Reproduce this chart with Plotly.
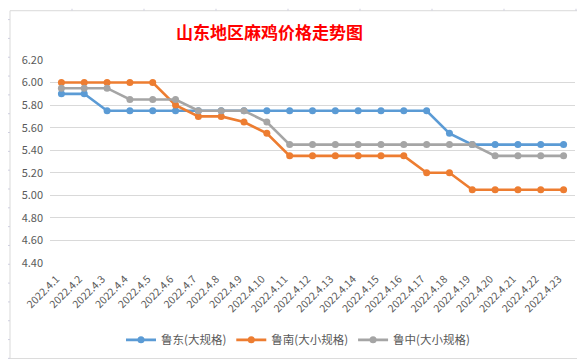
import plotly.graph_objects as go

dates = ["2022.4.%d" % d for d in range(1, 24)]
ludong = [5.90, 5.90, 5.75, 5.75, 5.75, 5.75, 5.75, 5.75, 5.75, 5.75, 5.75, 5.75,
          5.75, 5.75, 5.75, 5.75, 5.75, 5.55, 5.45, 5.45, 5.45, 5.45, 5.45]
lunan = [6.00, 6.00, 6.00, 6.00, 6.00, 5.80, 5.70, 5.70, 5.65, 5.55, 5.35, 5.35,
         5.35, 5.35, 5.35, 5.35, 5.20, 5.20, 5.05, 5.05, 5.05, 5.05, 5.05]
luzhong = [5.95, 5.95, 5.95, 5.85, 5.85, 5.85, 5.75, 5.75, 5.75, 5.65, 5.45, 5.45,
           5.45, 5.45, 5.45, 5.45, 5.45, 5.45, 5.45, 5.35, 5.35, 5.35, 5.35]
series_names = ["鲁东(大规格)", "鲁南(大小规格)", "鲁中(大小规格)"]
colors = ["#5B9BD5", "#ED7D31", "#A5A5A5"]
y_ticks = [4.40, 4.60, 4.80, 5.00, 5.20, 5.40, 5.60, 5.80, 6.00, 6.20]

font_family = "Noto Sans CJK SC, Noto Sans, sans-serif"

fig = go.Figure()
for name, vals, col in zip(series_names, [ludong, lunan, luzhong], colors):
    fig.add_trace(go.Scatter(
        x=dates, y=vals, name=name, mode="lines+markers",
        line=dict(color=col, width=2.6),
        marker=dict(color=col, size=7),
    ))

W, H = 585, 359
L, R, T, B = 42, 18, 52, 101
PW, PH = W - L - R, H - T - B


def px(x):
    return (x - L) / PW


def py(y):
    return (H - B - y) / PH


shapes = [dict(type="rect", xref="paper", yref="paper",
               x0=px(2), x1=px(582), y0=py(355), y1=py(2),
               line=dict(color="#D9D9D9", width=1), layer="below")]
grid_col = "#CFCFDF"
for cx in [64, 136, 208, 280, 352, 424, 496, 568]:
    shapes.append(dict(type="line", xref="paper", yref="paper",
                       x0=px(cx), x1=px(cx), y0=py(0), y1=py(2),
                       line=dict(color=grid_col, width=1)))
    shapes.append(dict(type="line", xref="paper", yref="paper",
                       x0=px(cx), x1=px(cx), y0=py(356), y1=py(359),
                       line=dict(color=grid_col, width=1)))
ry = 11.0
while ry < 356:
    for x0, x1 in [(0, 2), (583, 585)]:
        shapes.append(dict(type="line", xref="paper", yref="paper",
                           x0=px(x0), x1=px(x1), y0=py(ry), y1=py(ry),
                           line=dict(color=grid_col, width=1)))
    ry += 19.1

fig.update_layout(
    width=W, height=H,
    margin=dict(l=L, r=R, t=T, b=B),
    paper_bgcolor="white", plot_bgcolor="white",
    font=dict(family=font_family, size=11, color="#595959"),
    showlegend=True,
    legend=dict(orientation="h", x=px(290), xanchor="center",
                y=py(336), yanchor="middle",
                font=dict(size=11.5, color="#595959"),
                itemwidth=30, tracegroupgap=0, bgcolor="rgba(0,0,0,0)"),
    xaxis=dict(type="category", range=[-0.5, len(dates) - 0.5],
               tickangle=-45, showgrid=False, zeroline=False,
               showline=False, ticks="", tickfont=dict(size=10.5, color="#595959"),
               ticklabelstandoff=7, ticklabelshift=-5),
    yaxis=dict(range=[4.40, 6.20], tickvals=y_ticks,
               ticktext=["%.2f" % v for v in y_ticks],
               showgrid=True, gridcolor="#D9D9D9", gridwidth=1,
               zeroline=False, showline=False, ticks="",
               tickfont=dict(size=11, color="#595959"),
               ticklabelstandoff=6),
    annotations=[dict(text="<b>山东地区麻鸡价格走势图</b>", xref="paper", yref="paper",
                      x=px(261), y=py(23),
                      yanchor="middle", xanchor="center", showarrow=False,
                      font=dict(size=17, color="#FF0000", family=font_family))],
    shapes=shapes,
)

fig.write_html("out.html")
